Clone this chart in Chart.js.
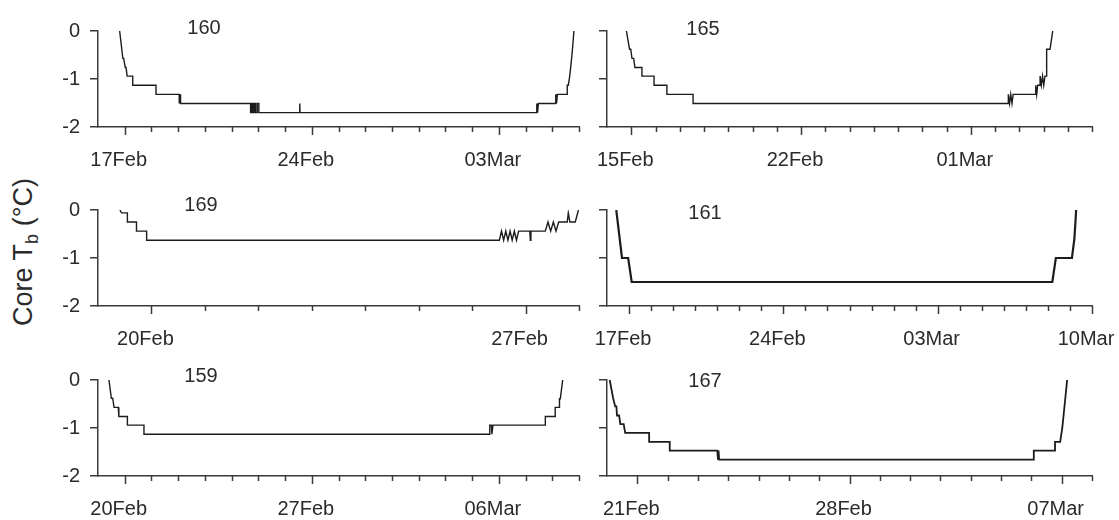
<!DOCTYPE html>
<html>
<head>
<meta charset="utf-8">
<script src="https://cdn.jsdelivr.net/npm/chart.js@4.4.0/dist/chart.umd.min.js"></script>
<style>
  html, body { margin: 0; padding: 0; background: #fff; }
  body {
    width: 1119px; height: 520px; position: relative; overflow: hidden;
    font-family: "Liberation Sans", Arial, sans-serif; color: #2b2b2b;
  }
  canvas { position: absolute; }
  .tag { position: absolute; font-size: 20px; line-height: 1; transform: translate(-50%, -50%); }
  #ylab {
    position: absolute; left: 25px; top: 252px; font-size: 27px; line-height: 1;
    white-space: nowrap; transform: translate(-50%, -50%) rotate(-90deg);
  }
  #ylab sub { font-size: 18px; vertical-align: -6px; }
</style>
</head>
<body>
<div id="ylab">Core T<sub>b</sub> (°C)</div>

<script>
// x values are days since the first date on each panel's axis
// bird 160, axis starts 16Feb
const days160 = [0.81, 0.93, 0.96, 1.02, 1.05, 1.09, 1.30, 1.30, 2.17, 2.17, 3.04, 3.04, 3.07, 3.09, 5.71, 5.71, 5.76, 5.76, 5.81, 5.81, 5.86, 5.86, 5.90, 5.90, 5.96, 5.96, 6.02, 6.02, 7.54, 7.55, 7.56, 16.42, 16.42, 16.45, 16.48, 17.13, 17.13, 17.16, 17.19, 17.56, 17.56, 17.60, 17.65, 17.71, 17.76, 17.81];
const tb160 = [0, -0.57, -0.57, -0.76, -0.76, -0.94, -0.94, -1.13, -1.13, -1.32, -1.32, -1.51, -1.32, -1.51, -1.51, -1.70, -1.70, -1.51, -1.51, -1.70, -1.70, -1.51, -1.51, -1.70, -1.70, -1.51, -1.51, -1.70, -1.70, -1.51, -1.70, -1.70, -1.51, -1.70, -1.51, -1.51, -1.32, -1.51, -1.32, -1.32, -1.13, -1.13, -0.95, -0.65, -0.35, 0];
const tickDays160 = [1, 8, 15];
const tickText160 = ["17Feb", "24Feb", "03Mar"];

// bird 165, axis starts 14Feb
const days165 = [0.80, 0.93, 0.98, 1.03, 1.10, 1.15, 1.44, 1.44, 1.94, 1.94, 2.47, 2.47, 3.55, 3.55, 16.55, 16.55, 16.60, 16.65, 16.70, 16.75, 17.68, 17.68, 17.72, 17.76, 17.86, 17.86, 17.91, 17.96, 18.01, 18.06, 18.13, 18.13, 18.27, 18.38];
const tb165 = [0, -0.38, -0.38, -0.57, -0.57, -0.76, -0.76, -0.94, -0.94, -1.13, -1.13, -1.32, -1.32, -1.51, -1.51, -1.32, -1.51, -1.32, -1.51, -1.32, -1.32, -1.13, -1.32, -1.13, -1.13, -0.94, -1.13, -0.94, -1.13, -0.94, -0.94, -0.38, -0.38, 0];
const tickDays165 = [1, 8, 15];
const tickText165 = ["15Feb", "22Feb", "01Mar"];

// bird 169, axis starts 19Feb
const days169 = [0.41, 0.44, 0.55, 0.55, 0.72, 0.72, 0.91, 0.91, 7.51, 7.55, 7.59, 7.63, 7.67, 7.71, 7.75, 7.79, 7.83, 7.87, 7.90, 8.08, 8.09, 8.10, 8.37, 8.42, 8.47, 8.52, 8.57, 8.62, 8.78, 8.80, 8.83, 8.93, 8.99];
const tb169 = [0, -0.06, -0.06, -0.25, -0.25, -0.44, -0.44, -0.63, -0.63, -0.44, -0.63, -0.44, -0.63, -0.44, -0.63, -0.44, -0.63, -0.44, -0.44, -0.44, -0.63, -0.44, -0.44, -0.25, -0.44, -0.25, -0.44, -0.25, -0.25, -0.06, -0.25, -0.25, 0];
const tickDays169 = [1, 8];
const tickText169 = ["20Feb", "27Feb"];

// bird 161, axis starts 16Feb
const days161 = [0.42, 0.68, 0.96, 1.12, 20.20, 20.36, 21.09, 21.20, 21.25, 21.28];
const tb161 = [0, -1.0, -1.0, -1.5, -1.5, -1.0, -1.0, -0.6, -0.25, 0];
const tickDays161 = [1, 8, 15, 22];
const tickText161 = ["17Feb", "24Feb", "03Mar", "10Mar"];

// bird 159, axis starts 19Feb
const days159 = [0.41, 0.50, 0.55, 0.60, 0.76, 0.78, 1.10, 1.10, 1.72, 1.72, 14.64, 14.66, 14.72, 14.74, 14.78, 16.74, 16.74, 17.11, 17.11, 17.27, 17.27, 17.30, 17.39];
const tb159 = [0, -0.38, -0.38, -0.57, -0.57, -0.76, -0.76, -0.94, -0.94, -1.13, -1.13, -0.94, -0.94, -1.13, -0.94, -0.94, -0.76, -0.76, -0.57, -0.57, -0.39, -0.39, 0];
const tickDays159 = [1, 8, 15];
const tickText159 = ["20Feb", "27Feb", "06Mar"];

// bird 167, axis starts 20Feb
const days167 = [0.09, 0.20, 0.27, 0.31, 0.33, 0.40, 0.44, 0.55, 0.60, 1.39, 1.39, 2.07, 2.07, 3.64, 3.66, 3.68, 3.70, 14.08, 14.08, 14.78, 14.78, 14.95, 15.02, 15.10, 15.18];
const tb167 = [0, -0.37, -0.55, -0.55, -0.74, -0.74, -0.92, -0.92, -1.10, -1.10, -1.29, -1.29, -1.47, -1.47, -1.66, -1.47, -1.66, -1.66, -1.47, -1.47, -1.29, -1.29, -1.0, -0.5, 0];
const tickDays167 = [1, 8, 15];
const tickText167 = ["21Feb", "28Feb", "07Mar"];

const yTicks = [0, -1, -2];

const AXIS = "#3a3a3a";
const LINE = "#1c1c1c";
const TEXT = "#2b2b2b";
const FONT = { family: "'Liberation Sans', Arial, sans-serif", size: 20 };

// layout of the six panels (canvas placement only)
const panels = [
  { id: "160", days: days160, tb: tb160, span: 18, tDays: tickDays160, tText: tickText160, col: 0, top: 19,  lw: 1.4, tag: [204, 27] },
  { id: "165", days: days165, tb: tb165, span: 20, tDays: tickDays165, tText: tickText165, col: 1, top: 19,  lw: 1.4, tag: [703, 28] },
  { id: "169", days: days169, tb: tb169, span: 9,  tDays: tickDays169, tText: tickText169, col: 0, top: 198, lw: 1.4, tag: [201, 204] },
  { id: "161", days: days161, tb: tb161, span: 22, tDays: tickDays161, tText: tickText161, col: 1, top: 198, lw: 2.2, tag: [705, 212] },
  { id: "159", days: days159, tb: tb159, span: 18, tDays: tickDays159, tText: tickText159, col: 0, top: 368, lw: 1.4, tag: [201, 375] },
  { id: "167", days: days167, tb: tb167, span: 16, tDays: tickDays167, tText: tickText167, col: 1, top: 368, lw: 1.8, tag: [705, 380] },
];

// daily tick marks, longer where a date is written
const dayTicks = {
  id: "dayTicks",
  afterDraw(chart, args, opts) {
    const sx = chart.scales.x;
    const ctx = chart.ctx;
    ctx.save();
    ctx.strokeStyle = AXIS;
    ctx.lineWidth = 1.5;
    for (let d = sx.min + 1; d <= sx.max; d++) {
      const px = Math.round(sx.getPixelForValue(d)) + 0.5;
      const len = opts.major.includes(d) ? 8 : 5;
      ctx.beginPath();
      ctx.moveTo(px, sx.top);
      ctx.lineTo(px, sx.top + len);
      ctx.stroke();
    }
    ctx.restore();
  },
};

const PAD_TOP = 10;
const PLOT_H = 108;
const XAXIS_H = 45;

panels.forEach((p) => {
  // right column canvas runs past the page edge so the last date label never squeezes the plot
  const left = p.col === 0 ? 0 : 520;
  const width = p.col === 0 ? 600 : 650;
  const yAxisW = p.col === 0 ? 98 : 87;
  const padRight = p.col === 0 ? 18 : 78;

  const cv = document.createElement("canvas");
  cv.width = width;
  cv.height = PAD_TOP + PLOT_H + XAXIS_H;
  cv.style.left = left + "px";
  cv.style.top = (p.top - PAD_TOP) + "px";
  document.body.appendChild(cv);

  const tag = document.createElement("div");
  tag.className = "tag";
  tag.textContent = p.id;
  tag.style.left = p.tag[0] + "px";
  tag.style.top = p.tag[1] + "px";
  document.body.appendChild(tag);

  const pts = p.days.map((d, i) => ({ x: d, y: p.tb[i] }));

  new Chart(cv, {
    type: "scatter",
    data: {
      datasets: [{
        data: pts,
        showLine: true,
        borderColor: LINE,
        borderWidth: p.lw,
        pointRadius: 0,
        tension: 0,
        fill: false,
      }],
    },
    options: {
      responsive: false,
      animation: false,
      events: [],
      layout: { padding: { top: PAD_TOP, right: padRight, left: 0, bottom: 0 } },
      plugins: {
        legend: { display: false },
        tooltip: { enabled: false },
        dayTicks: { major: p.tDays },
      },
      scales: {
        x: {
          type: "linear",
          min: 0,
          max: p.span,
          afterFit: (s) => { s.height = XAXIS_H; },
          border: { color: AXIS, width: 1.5 },
          grid: { drawOnChartArea: false, drawTicks: false },
          ticks: {
            stepSize: 1,
            autoSkip: false,
            maxRotation: 0,
            padding: 21,
            labelOffset: -6,
            color: TEXT,
            font: FONT,
            callback: (v) => {
              const k = p.tDays.indexOf(v);
              return k >= 0 ? p.tText[k] : "";
            },
          },
        },
        y: {
          min: -2,
          max: 0,
          afterFit: (s) => { s.width = yAxisW; },
          border: { color: AXIS, width: 1.5 },
          grid: { drawOnChartArea: false, tickLength: 8, color: AXIS, lineWidth: 1.5 },
          ticks: {
            stepSize: 1,
            padding: 10,
            color: TEXT,
            font: FONT,
            callback: (v) => (p.col === 0 && yTicks.includes(v) ? String(v) : ""),
          },
        },
      },
    },
    plugins: [dayTicks],
  });
});
</script>
</body>
</html>
